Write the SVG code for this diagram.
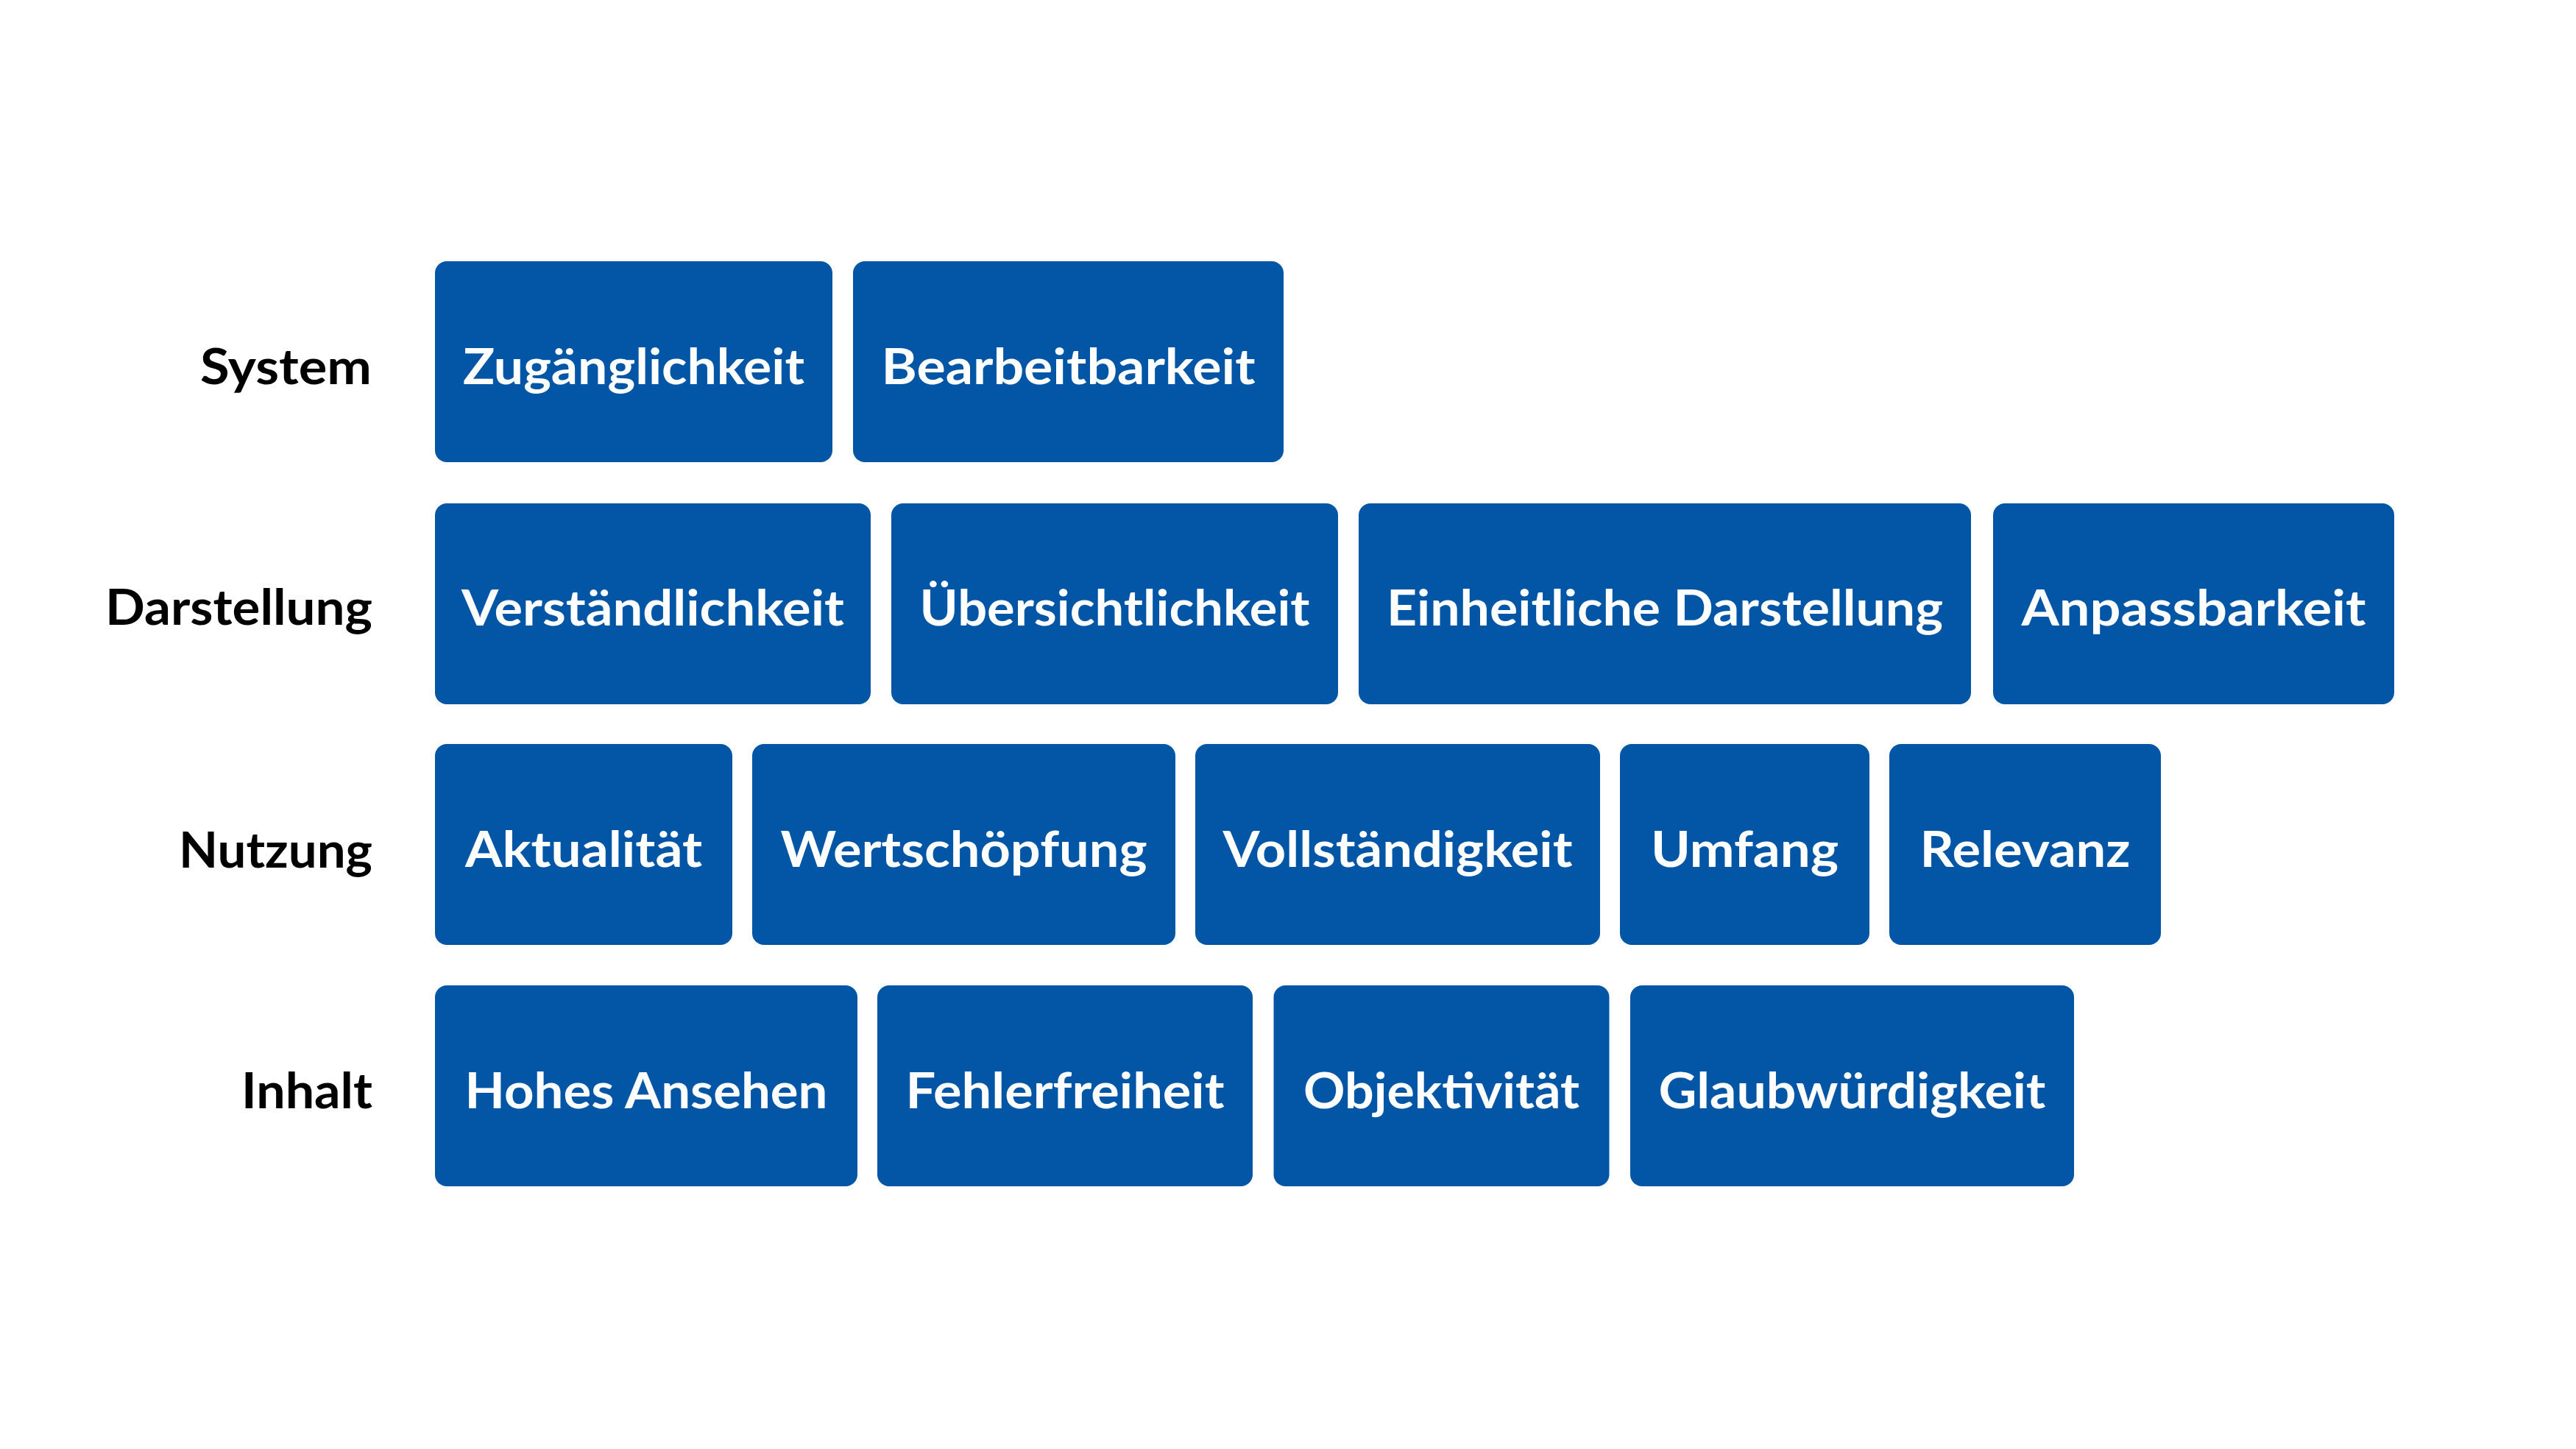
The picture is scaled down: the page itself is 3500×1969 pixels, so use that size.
<svg xmlns="http://www.w3.org/2000/svg" width="3500" height="1969" viewBox="0 0 3500 1969">
  <style>
    .box { fill: #0256A5; }
    .t { font-family: Lato, "Open Sans", "Liberation Sans", sans-serif; font-weight: 700; font-size: 66px; fill: #ffffff; text-anchor: middle; }
    .lbl { font-family: Lato, "Open Sans", "Liberation Sans", sans-serif; font-weight: 700; font-size: 66px; fill: #000000; text-anchor: end; }
  </style>
  <rect width="3500" height="1969" fill="#ffffff"/>

  <g id="labels">
    <text class="lbl" x="505" y="522" textLength="233" lengthAdjust="spacingAndGlyphs">System</text>
    <text class="lbl" x="506" y="849" textLength="363" lengthAdjust="spacingAndGlyphs">Darstellung</text>
    <text class="lbl" x="506" y="1179" textLength="263" lengthAdjust="spacingAndGlyphs">Nutzung</text>
    <text class="lbl" x="506" y="1506" textLength="178" lengthAdjust="spacingAndGlyphs">Inhalt</text>
  </g>

  <g id="connectors"></g>

  <!-- Row 1: System -->
  <g id="node-zugaenglichkeit">
    <rect class="box" x="591" y="355" width="540" height="273" rx="16"/>
    <text class="t" x="861" y="522" textLength="464" lengthAdjust="spacingAndGlyphs">Zugänglichkeit</text>
  </g>
  <g id="node-bearbeitbarkeit">
    <rect class="box" x="1159" y="355" width="585" height="273" rx="16"/>
    <text class="t" x="1451.5" y="522" textLength="508" lengthAdjust="spacingAndGlyphs">Bearbeitbarkeit</text>
  </g>

  <!-- Row 2: Darstellung -->
  <g id="node-verstaendlichkeit">
    <rect class="box" x="591" y="684" width="592" height="273" rx="16"/>
    <text class="t" x="887" y="850" textLength="520" lengthAdjust="spacingAndGlyphs">Verständlichkeit</text>
  </g>
  <g id="node-uebersichtlichkeit">
    <rect class="box" x="1211" y="684" width="607" height="273" rx="16"/>
    <text class="t" x="1514.5" y="850" textLength="530" lengthAdjust="spacingAndGlyphs">Übersichtlichkeit</text>
  </g>
  <g id="node-einheitliche-darstellung">
    <rect class="box" x="1846" y="684" width="832" height="273" rx="16"/>
    <text class="t" x="2262" y="850" textLength="756" lengthAdjust="spacingAndGlyphs">Einheitliche Darstellung</text>
  </g>
  <g id="node-anpassbarkeit">
    <rect class="box" x="2708" y="684" width="545" height="273" rx="16"/>
    <text class="t" x="2980.5" y="850" textLength="468" lengthAdjust="spacingAndGlyphs">Anpassbarkeit</text>
  </g>

  <!-- Row 3: Nutzung -->
  <g id="node-aktualitaet">
    <rect class="box" x="591" y="1011" width="404" height="273" rx="16"/>
    <text class="t" x="793" y="1178" textLength="322" lengthAdjust="spacingAndGlyphs">Aktualität</text>
  </g>
  <g id="node-wertschoepfung">
    <rect class="box" x="1022" y="1011" width="575" height="273" rx="16"/>
    <text class="t" x="1309.5" y="1178" textLength="498" lengthAdjust="spacingAndGlyphs">Wertschöpfung</text>
  </g>
  <g id="node-vollstaendigkeit">
    <rect class="box" x="1624" y="1011" width="550" height="273" rx="16"/>
    <text class="t" x="1899" y="1178" textLength="475" lengthAdjust="spacingAndGlyphs">Vollständigkeit</text>
  </g>
  <g id="node-umfang">
    <rect class="box" x="2201" y="1011" width="339" height="273" rx="16"/>
    <text class="t" x="2370.5" y="1178" textLength="255" lengthAdjust="spacingAndGlyphs">Umfang</text>
  </g>
  <g id="node-relevanz">
    <rect class="box" x="2567" y="1011" width="369" height="273" rx="16"/>
    <text class="t" x="2751.5" y="1178" textLength="286" lengthAdjust="spacingAndGlyphs">Relevanz</text>
  </g>

  <!-- Row 4: Inhalt -->
  <g id="node-hohes-ansehen">
    <rect class="box" x="591" y="1339" width="574" height="273" rx="16"/>
    <text class="t" x="878" y="1506" textLength="493" lengthAdjust="spacingAndGlyphs">Hohes Ansehen</text>
  </g>
  <g id="node-fehlerfreiheit">
    <rect class="box" x="1192" y="1339" width="510" height="273" rx="16"/>
    <text class="t" x="1447" y="1506" textLength="433" lengthAdjust="spacingAndGlyphs">Fehlerfreiheit</text>
  </g>
  <g id="node-objektivitaet">
    <rect class="box" x="1730.5" y="1339" width="456" height="273" rx="16"/>
    <text class="t" x="1958.5" y="1506" textLength="375" lengthAdjust="spacingAndGlyphs">Objektivität</text>
  </g>
  <g id="node-glaubwuerdigkeit">
    <rect class="box" x="2215" y="1339" width="603" height="273" rx="16"/>
    <text class="t" x="2516.5" y="1506" textLength="526" lengthAdjust="spacingAndGlyphs">Glaubwürdigkeit</text>
  </g>
</svg>
